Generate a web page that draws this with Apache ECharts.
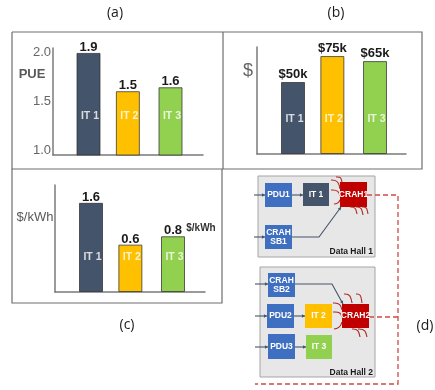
<!DOCTYPE html>
<html><head><meta charset="utf-8">
<style>html,body{margin:0;padding:0;background:#fff}#c{width:435px;height:390px}</style>
<script src="https://cdn.jsdelivr.net/npm/echarts@6/dist/echarts.min.js"></script>
</head><body><div id="c"></div>
<script>
// ---- data ----
const categories = ['IT 1', 'IT 2', 'IT 3'];
const barColors = ['#44546a', '#ffc000', '#92d050'];
// bar heights as drawn in the picture, and the value labels printed over them
const pueHeights = [1.99, 1.60, 1.64];
const pueLabels = ['1.9', '1.5', '1.6'];
const pueTicks = [1.0, 1.5, 2.0];
const costHeights = [50, 68, 64.5];
const costLabels = ['$50k', '$75k', '$65k'];
const energyHeights = [1.6, 0.85, 1.0];
const energyLabels = ['1.6', '0.6', '0.8'];

// ---- layout ----
const SANS = '"Liberation Sans", Arial, sans-serif';
const CAL = '"Open Sans", sans-serif';
const panels = [
  {left: 53, top: 48, width: 150, height: 107, first: 88.5, ymin: 0.95, ymax: 2.04, h: pueHeights, l: pueLabels, lvl: 1.348, ticks: pueTicks, gap: -1},
  {left: 257, top: 47, width: 149, height: 107, first: 293, ymin: 0, ymax: 74.3, h: costHeights, l: costLabels, lvl: 24.5, gap: 1},
  {left: 55, top: 185, width: 150, height: 107, first: 91, ymin: 0, ymax: 1.92, h: energyHeights, l: energyLabels, lvl: 0.62, gap: -1}
];
const BAND = 41, slot = [1, 1.96, 3];
const grid = [], xAxis = [], yAxis = [], series = [];
panels.forEach((p, k) => {
  grid.push({left: p.left, top: p.top, width: p.width, height: p.height});
  const xmin = 1 - (p.first - p.left) / BAND;
  xAxis.push({type: 'value', gridIndex: k, min: xmin, max: xmin + p.width / BAND,
    axisLine: {show: true, onZero: false, lineStyle: {color: '#7a7a7a', width: 1.5}},
    axisTick: {show: false}, axisLabel: {show: false}, splitLine: {show: false}});
  yAxis.push({type: 'value', gridIndex: k, min: p.ymin, max: p.ymax,
    axisLine: {show: true, onZero: false, lineStyle: {color: '#7a7a7a', width: 1.5}},
    axisTick: {show: false}, splitLine: {show: false},
    axisLabel: p.ticks ? {show: true, customValues: p.ticks, margin: 2, color: '#666',
      fontFamily: SANS, fontSize: 13, formatter: v => v.toFixed(1)} : {show: false}});
  series.push({type: 'bar', xAxisIndex: k, yAxisIndex: k, barWidth: 24, silent: true,
    data: categories.map((c, i) => ({value: [slot[i], p.h[i]], name: c,
      itemStyle: {color: barColors[i], borderColor: 'rgba(50,50,50,0.75)', borderWidth: 1}})),
    label: {show: true, position: 'top', distance: p.gap, color: '#1a1a1a', fontFamily: SANS,
      fontWeight: 'bold', fontSize: 13, formatter: d => p.l[d.dataIndex]}});
  series.push({type: 'scatter', xAxisIndex: k, yAxisIndex: k, symbolSize: 1, silent: true,
    itemStyle: {color: 'transparent'},
    data: categories.map((c, i) => ({value: [slot[i], p.lvl], name: c})),
    label: {show: true, position: 'inside', offset: [1.5, 0], color: '#fff', fontFamily: SANS,
      fontWeight: 'bold', fontSize: 10.5, formatter: d => d.name}});
});

// ---- surrounding annotation and the diagram of panel (d) ----
const g = [];
const line = (pts, color, w, dash) => g.push({type: 'polyline', silent: true, z: 5,
  shape: {points: pts}, style: {stroke: color, lineWidth: w, lineDash: dash || null, fill: null}});
const txt = (x, y, t, font, fill, align) => g.push({type: 'text', silent: true, z: 8, x, y,
  style: {text: t, font, fill, align: align || 'center', verticalAlign: 'middle'}});
const rect = (x0, y0, x1, y1, fill, stroke) => g.push({type: 'rect', silent: true, z: 3,
  shape: {x: x0, y: y0, width: x1 - x0, height: y1 - y0},
  style: {fill, stroke: stroke || null, lineWidth: stroke ? 1 : 0}});
const arrow = (pts, color) => {
  line(pts, color || '#44546a', 1.1);
  const a = pts[pts.length - 1], b = pts[pts.length - 2];
  const t = Math.atan2(a[1] - b[1], a[0] - b[0]), s = 3.5;
  g.push({type: 'polygon', silent: true, z: 6, shape: {points: [a,
    [a[0] - s * Math.cos(t - .5), a[1] - s * Math.sin(t - .5)],
    [a[0] - s * Math.cos(t + .5), a[1] - s * Math.sin(t + .5)]]}, style: {fill: color || '#44546a'}});
};
const heat = (x0, y0, x1, y1) => g.push({type: 'bezierCurve', silent: true, z: 6,
  shape: {x1: x0, y1: y0, x2: x1, y2: y1, cpx1: (x0 + x1) / 2 + 2.5, cpy1: y0 - 0.5, cpx2: x1 - 1, cpy2: (y0 + y1) / 2 - 1},
  style: {stroke: '#b02a20', lineWidth: 1.1, fill: null}});

// panel frames
const frame = '#6e6e6e';
line([[12, 32], [422, 32], [422, 169], [12, 169], [12, 32]], frame, 1.2);
line([[223, 32], [223, 169]], frame, 1.2);
line([[12, 169], [12, 303], [222, 303], [222, 169]], frame, 1.2);
// captions
const cap = '14px ' + CAL;
txt(115, 13, '(a)', cap, '#1a1a1a');
txt(336, 13, '(b)', cap, '#1a1a1a');
txt(127, 325, '(c)', cap, '#1a1a1a');
txt(425, 326, '(d)', cap, '#1a1a1a');
// axis names
txt(32, 74, 'PUE', 'bold 13px ' + SANS, '#595959');
txt(248, 71, '$', '18px ' + SANS, '#666');
txt(35, 217, '$/kWh', '13px ' + SANS, '#595959');
txt(201, 228, '$/kWh', 'bold 10px ' + SANS, '#333');

// halls
rect(258, 176, 375, 257, '#e7e7e7', '#a5a5a5');
rect(260, 267, 375, 377, '#e7e7e7', '#a5a5a5');
txt(373, 252, 'Data Hall 1', 'bold 8.5px ' + SANS, '#1a1a1a', 'right');
txt(373, 373, 'Data Hall 2', 'bold 8.5px ' + SANS, '#1a1a1a', 'right');
// blocks
const BLUE = '#3f6fc0', RED = '#c00000', lbl = 'bold 8.5px ' + SANS;
const block = (x0, y0, x1, y1, fill, t) => {
  rect(x0, y0, x1, y1, fill);
  txt((x0 + x1) / 2, (y0 + y1) / 2, t, lbl, '#fff');
};
block(265, 183, 292, 207, BLUE, 'PDU1');
block(303, 183, 329, 206, '#44546a', 'IT 1');
block(340, 182, 367, 207, RED, 'CRAH1');
block(265, 225, 292, 249, BLUE, 'CRAH\nSB1');
block(268, 273, 295, 297, BLUE, 'CRAH\nSB2');
block(267, 304, 294, 328, BLUE, 'PDU2');
block(305, 304, 332, 328, '#ffc000', 'IT 2');
block(268, 334, 295, 359, BLUE, 'PDU3');
block(306, 335, 332, 359, '#92d050', 'IT 3');
block(342, 304, 369, 328, RED, 'CRAH2');
// feeds
arrow([[254, 195], [265, 195]]);
arrow([[292, 195], [303, 195]]);
arrow([[254, 237], [265, 237]]);
arrow([[292, 237], [319, 237], [341, 207]]);
arrow([[255, 284], [268, 284]]);
arrow([[295, 284], [332, 284], [343, 304]]);
arrow([[255, 316], [267, 316]]);
arrow([[294, 316], [305, 316]]);
arrow([[255, 347], [268, 347]]);
arrow([[295, 347], [306, 347]]);
// chilled water loop
const dashRed = '#cf4a45', d = [5, 3];
line([[367, 195], [398, 195], [398, 384], [255, 384]], dashRed, 1.3, d);
line([[369, 317], [398, 317]], dashRed, 1.3, d);
// heat marks
[[331, 180, 340, 189], [331, 190, 340, 196], [334, 204, 340, 200], [336, 177, 342, 182],
 [350, 207, 357, 214], [356, 207, 363, 215], [362, 207, 368, 214],
 [344, 294, 352, 303], [356, 294, 362, 303],
 [333, 303, 342, 310], [333, 312, 342, 317], [334, 329, 342, 322],
 [352, 329, 360, 337], [358, 329, 367, 337]].forEach(h => heat(...h));

const chart = echarts.init(document.getElementById('c'), null, {renderer: 'canvas'});
chart.setOption({animation: false, backgroundColor: '#fff', tooltip: {show: false},
  grid, xAxis, yAxis, series, graphic: {elements: g}});
</script></body></html>
